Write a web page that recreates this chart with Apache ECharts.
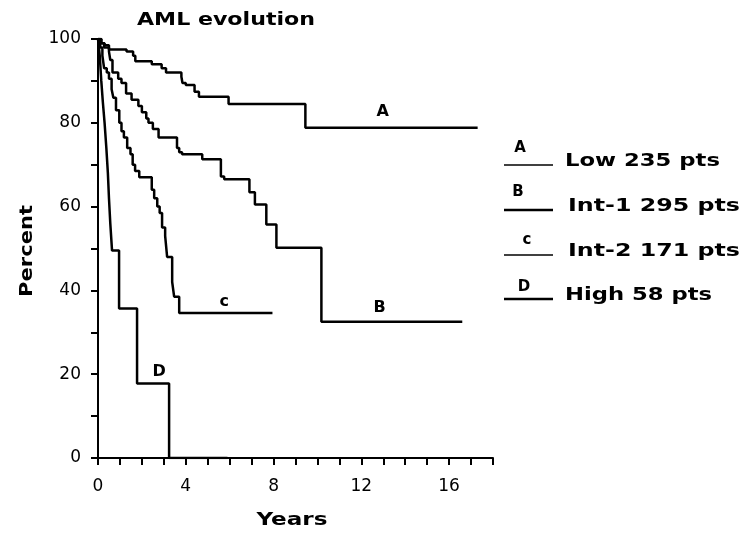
<!DOCTYPE html>
<html><head><meta charset="utf-8">
<script src="https://cdn.jsdelivr.net/npm/echarts@6/dist/echarts.min.js"></script>
<style>html,body{margin:0;padding:0;background:#fff}#c{width:747px;height:534px}</style>
</head><body><div id="c"></div>
<script>
// Kaplan-Meier style step curves: [years, percent]
const curveA = [[0,100],[0.15,99],[0.3,98.5],[0.5,97.5],[1.3,97],[1.6,96],[1.7,94.7],[2.45,94],[2.9,93],[3.1,92],[3.8,91],[3.85,89.5],[4.0,89],[4.4,87.4],[4.6,86.2],[5.95,84.5],[9.45,78.8],[17.3,78.8]];
const curveB = [[0,100],[0.15,99],[0.28,98],[0.5,97],[0.56,95],[0.66,92],[0.92,90.5],[1.07,89.5],[1.28,87],[1.53,85.5],[1.84,84],[2.0,82.5],[2.2,81],[2.3,80],[2.5,78.5],[2.76,76.5],[3.6,74],[3.7,73],[3.83,72.5],[4.75,71.3],[5.6,67.2],[5.75,66.5],[6.9,63.4],[7.15,60.5],[7.67,55.7],[8.13,50.2],[10.18,32.5],[16.6,32.5]];
const curveC = [[0,100],[0.1,98],[0.2,96],[0.28,93],[0.4,92],[0.5,90.5],[0.62,88],[0.7,86],[0.82,83],[0.97,80],[1.07,78],[1.18,76.5],[1.33,74],[1.48,72.5],[1.58,70],[1.69,68.5],[1.88,67],[2.45,64],[2.56,62],[2.7,60],[2.81,58.5],[2.92,55],[3.06,53],[3.15,48],[3.38,42],[3.47,38.5],[3.7,34.6],[7.95,34.6]];
const curveD = [[0,100],[0.08,96],[0.15,90],[0.22,85],[0.3,80],[0.38,74],[0.45,68],[0.5,62],[0.56,56],[0.64,49.5],[0.96,35.7],[1.78,17.8],[3.24,0],[5.9,0]];
const curveLetters = ['A','B','c','D'];
const curveLabelPos = [[12.97,82.6],[12.83,35.8],[5.75,37.2],[2.79,20.5]];
const legendTexts = ['Low 235 pts','Int-1 295 pts','Int-2 171 pts','High 58 pts'];
const xLabelsShown = [0,4,8,12,16];
const yLabelsShown = [0,20,40,60,80,100];
const titleText = 'AML evolution';
const xName = 'Years';
const yName = 'Percent';

const chart = echarts.init(document.getElementById('c'), null, {renderer:'canvas'});
const axisCommon = {
  type:'value',
  axisLine:{show:true, onZero:false, lineStyle:{color:'#000', width:2}},
  axisTick:{show:true, length:7, lineStyle:{color:'#000', width:2}},
  splitLine:{show:false},
};
const curves = [curveA, curveB, curveC, curveD];
chart.setOption({
  animation:false,
  backgroundColor:'#fff',
  grid:{left:98, top:39, right:254, bottom:76},
  xAxis:Object.assign({}, axisCommon, {min:0, max:18, interval:1,
    axisLabel:{formatter:v => xLabelsShown.includes(v) ? String(v) : '', color:'#000', fontSize:17, fontFamily:'DejaVu Sans', margin:20}}),
  yAxis:Object.assign({}, axisCommon, {min:0, max:100, interval:10,
    axisLabel:{formatter:v => yLabelsShown.includes(v) ? String(v) : '', color:'#000', fontSize:17, fontFamily:'DejaVu Sans', margin:17}}),
  series:curves.map((d, i) => ({
    type:'line', step:'end', data:d, showSymbol:false, symbol:'none',
    lineStyle:{color:'#000', width:2.5}, z:3
  }))
});

const mctx = document.createElement('canvas').getContext('2d');
function fit(str, size, target){
  mctx.font = 'bold ' + size + 'px "DejaVu Sans"';
  return target / mctx.measureText(str).width;
}
const bold = {fontFamily:'DejaVu Sans', fontWeight:'bold', fill:'#000'};
const g = [];
g.push({type:'text', x:137, y:21, scaleX:fit(titleText,17,178),
  style:Object.assign({text:titleText, fontSize:17, align:'left', verticalAlign:'middle'}, bold)});
g.push({type:'text', x:292, y:521, scaleX:fit(xName,17,71),
  style:Object.assign({text:xName, fontSize:17, align:'center', verticalAlign:'middle'}, bold)});
g.push({type:'text', x:28, y:251, rotation:Math.PI/2, scaleX:fit(yName,17,92),
  style:Object.assign({text:yName, fontSize:17, align:'center', verticalAlign:'middle'}, bold)});
// legend
const legLineY = [165, 210, 255, 299];
const legLetterY = [148, 192, 240, 287];
const legLetterX = [520, 518, 527, 524];
const legTextW = [155, 172, 172, 147];
const legTextX = [565, 568, 568, 565];
legendTexts.forEach((t, i) => {
  g.push({type:'line', shape:{x1:504, y1:legLineY[i], x2:553, y2:legLineY[i]},
    style:{stroke:'#000', lineWidth:(i % 2 === 0) ? 1.6 : 2.6}});
  g.push({type:'text', x:legLetterX[i], y:legLetterY[i],
    style:{text:curveLetters[i], fontSize:15, fontFamily:'DejaVu Sans', fontWeight:'bold', fill:'#000', align:'center', verticalAlign:'middle'}});
  g.push({type:'text', x:legTextX[i], y:legLineY[i] - 3, scaleX:fit(t,17,legTextW[i]),
    style:Object.assign({text:t, fontSize:17, align:'left', verticalAlign:'middle'}, bold)});
});
// curve labels
curveLabelPos.forEach((p, i) => {
  const px = chart.convertToPixel({gridIndex:0}, p);
  g.push({type:'text', x:px[0], y:px[1],
    style:{text:curveLetters[i], fontSize:16, fontFamily:'DejaVu Sans', fontWeight:'bold', fill:'#000', align:'center', verticalAlign:'middle'}});
});
chart.setOption({graphic:g});
</script></body></html>
